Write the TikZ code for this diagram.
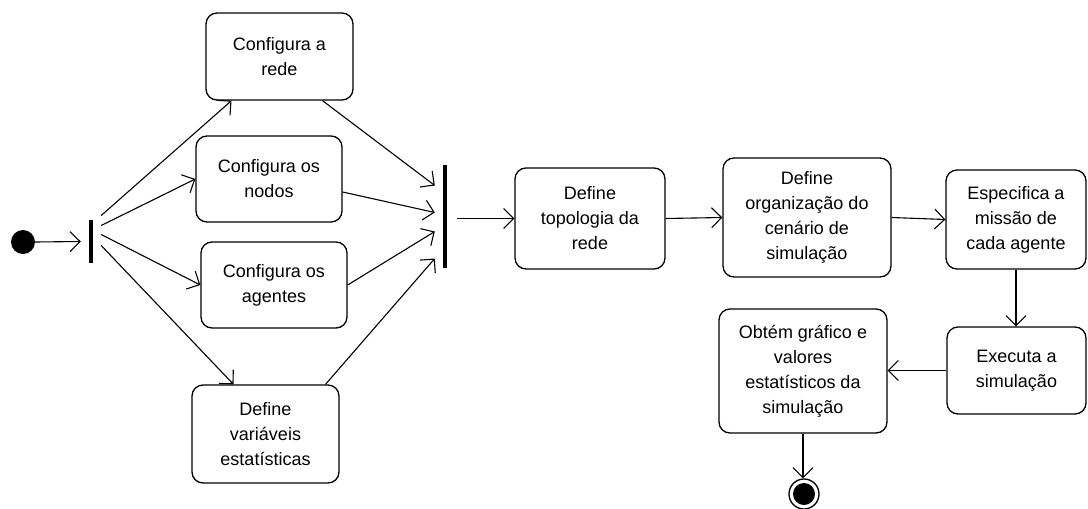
\documentclass[tikz,border=0pt]{standalone}
\usepackage{fontspec}
\setmainfont{Liberation Sans}
\usetikzlibrary{arrows.meta,calc}
\begin{document}
\begin{tikzpicture}[x=1pt,y=-1pt,
  act/.style={draw, line width=1.3pt, rounded corners=11pt, align=center,
    inner sep=0pt, font=\fontsize{18}{25}\selectfont},
  bar/.style={fill=black, draw=none, inner sep=0pt, minimum width=4pt},
  arr/.style={line width=1.1pt,
    -{Straight Barb[length=10pt,width=20pt,line width=1.1pt]}}
]
\useasboundingbox (0,0) rectangle (1088,509);

% initial and final states
\node[circle, fill=black, inner sep=0pt, minimum size=24pt] (start) at (23,242) {};
\node[circle, draw, line width=1.3pt, inner sep=0pt, minimum size=30pt] (end) at (804,494) {};
\fill (end.center) circle (11pt);

% fork and join bars
\node[bar, minimum height=43pt] (fork) at (91,241.5) {};
\node[bar, minimum height=103pt] (join) at (445,216.5) {};

% parallel activities
\node[act, minimum width=147pt, minimum height=87pt] (rede) at (279.5,56.5) {Configura a\\rede};
\node[act, minimum width=146pt, minimum height=86pt] (nodos) at (269,179) {Configura os\\nodos};
\node[act, minimum width=146pt, minimum height=86pt] (agentes) at (274,285) {Configura os\\agentes};
\node[act, minimum width=147pt, minimum height=98pt] (vars) at (265.5,434) {Define\\variáveis\\estatísticas};

% sequential activities
\node[act, minimum width=150pt, minimum height=101pt] (topo) at (590,218.5) {Define\\topologia da\\rede};
\node[act, minimum width=168pt, minimum height=119pt] (org) at (807,217.5) {Define\\organização do\\cenário de\\simulação};
\node[act, minimum width=140pt, minimum height=99pt] (missao) at (1016,219.5) {Especifica a\\missão de\\cada agente};
\node[act, minimum width=139pt, minimum height=87pt] (exec) at (1016.5,370.5) {Executa a\\simulação};
\node[act, minimum width=168pt, minimum height=124pt] (obtem) at (803,371) {Obtém gráfico e\\valores\\estatísticos da\\simulação};

% start -> fork
\draw[arr] (start.east) -- ($(fork.west)+(-8,0)$);

% fork -> parallel activities
\draw[arr] ($(fork.east)+(8,-26)$) -- ($(rede.south)+(-48,0)$);
\draw[arr] ($(fork.east)+(8,-16)$) -- (nodos.west);
\draw[arr] ($(fork.east)+(8,-7)$) -- (agentes.west);
\draw[arr] ($(fork.east)+(8,4)$) -- ($(vars.north)+(-32,0)$);

% parallel activities -> join
\draw[arr] ($(rede.south)+(43,0)$) -- ($(join.west)+(-8,-31)$);
\draw[arr] ($(nodos.east)+(0,13)$) -- ($(join.west)+(-8,-4)$);
\draw[arr] (agentes.east) -- ($(join.west)+(-8,15)$);
\draw[arr] ($(vars.north)+(60,0)$) -- ($(join.west)+(-8,42)$);

% main sequence
\draw[arr] ($(join.east |- topo.west)+(10,0)$) -- (topo.west);
\draw[arr] (topo.east) -- (org.west);
\draw[arr] (org.east) -- (missao.west);
\draw[arr] (missao.south) -- (missao.south |- exec.north);
\draw[arr] (exec.west) -- (exec.west -| obtem.east);
\draw[arr] (obtem.south) -- (obtem.south |- end.north);
\end{tikzpicture}
\end{document}
